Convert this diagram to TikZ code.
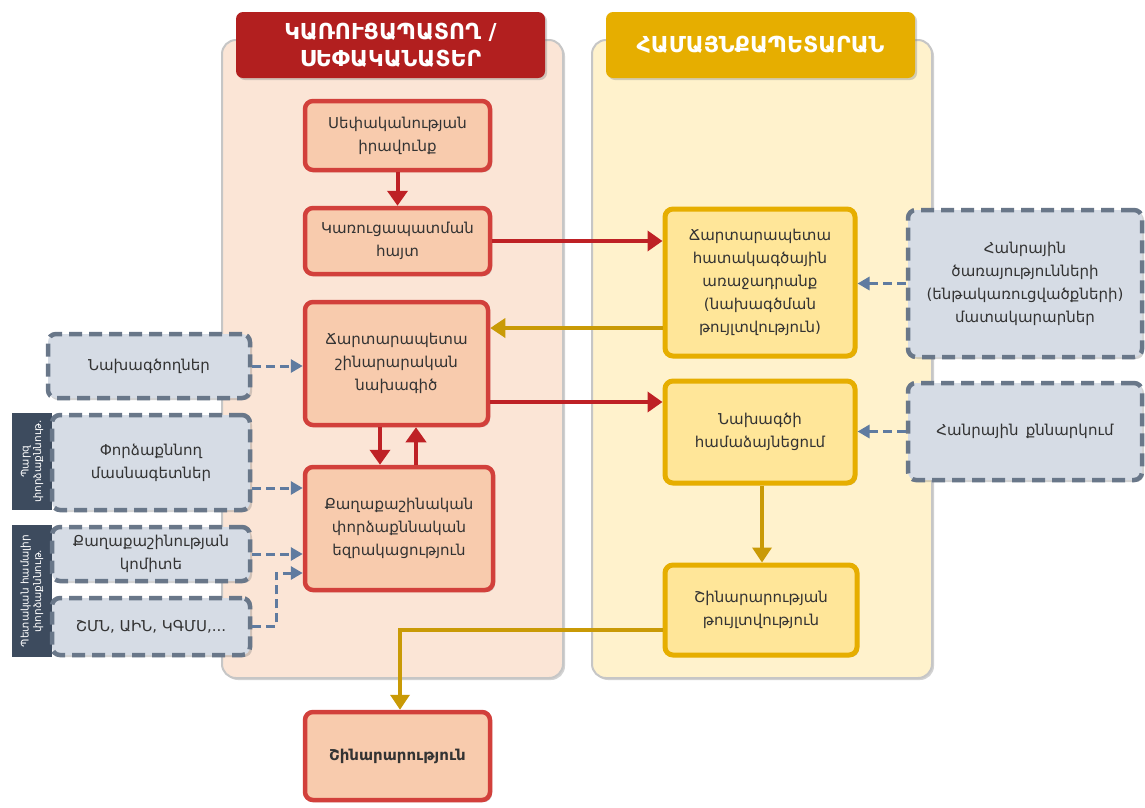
\documentclass[tikz,border=0pt]{standalone}
\usepackage{fontspec}
\setmainfont{DejaVu Sans}
\usetikzlibrary{arrows.meta,shadows}
\definecolor{hred}{HTML}{B21F1F}
\definecolor{hgold}{HTML}{E6AE00}
\definecolor{colL}{HTML}{FBE5D6}
\definecolor{colR}{HTML}{FFF2CC}
\definecolor{rfill}{HTML}{F8CBAD}
\definecolor{rdraw}{HTML}{D2403B}
\definecolor{yfill}{HTML}{FFE699}
\definecolor{ydraw}{HTML}{E6AE00}
\definecolor{gfill}{HTML}{D6DCE5}
\definecolor{gdraw}{HTML}{697789}
\definecolor{sidec}{HTML}{3D4B5E}
\definecolor{redarrc}{HTML}{BE2125}
\definecolor{goldarrc}{HTML}{C99A06}
\definecolor{bluearrc}{HTML}{5F7BA0}
\definecolor{txt}{HTML}{333333}
\begin{document}
\begin{tikzpicture}[x=1pt,y=-1pt,
  shd/.style={drop shadow={shadow xshift=2pt,shadow yshift=-2pt,opacity=0.35}},
  colbg/.style={draw=gray!45,line width=2pt,rounded corners=14pt,shd},
  hdr/.style={rounded corners=7pt,text=white,align=center,inner sep=0pt,
    font=\fontsize{22}{27}\selectfont\bfseries,shd},
  base/.style={rounded corners=8pt,align=center,inner sep=2pt,text=txt,
    font=\fontsize{15}{23}\selectfont,shd},
  rbox/.style={base,fill=rfill,draw=rdraw,line width=4.5pt},
  ybox/.style={base,fill=yfill,draw=ydraw,line width=5pt},
  gbox/.style={base,fill=gfill,draw=gdraw,line width=4.5pt,dash pattern=on 13pt off 7pt},
  sidebox/.style={fill=sidec,text=white,align=center,inner sep=0pt,rotate=90,
    font=\fontsize{10.5}{12.5}\selectfont},
  redarr/.style={draw=redarrc,line width=4pt,-{Triangle[width=20pt,length=15pt]}},
  goldarr/.style={draw=goldarrc,line width=3.5pt,-{Triangle[width=19pt,length=15pt]}},
  bluearr/.style={draw=bluearrc,line width=3pt,dash pattern=on 9pt off 5pt,
    -{Triangle[width=13pt,length=12pt]}}]
\useasboundingbox (0,0) rectangle (1145,807);
\fill[white] (0,0) rectangle (1145,807);
% columns
\draw[colbg,fill=colL] (222,40) rectangle (563,678);
\draw[colbg,fill=colR] (592,40) rectangle (932,678);
% headers
\node[hdr,fill=hred,minimum width=309pt,minimum height=66pt] (hl) at (390.5,45) {ԿԱՌՈՒՑԱՊԱՏՈՂ /\\ՍԵՓԱԿԱՆԱՏԵՐ};
\node[hdr,fill=hgold,minimum width=309pt,minimum height=66pt] (hr) at (760.5,45) {ՀԱՄԱՅՆՔԱՊԵՏԱՐԱՆ};
% red boxes
\node[rbox,minimum width=185pt,minimum height=69pt] (own) at (397.5,135.5) {Սեփականության\\իրավունք};
\node[rbox,minimum width=185pt,minimum height=66pt] (req) at (397.5,241) {Կառուցապատման\\հայտ};
\node[rbox,minimum width=183pt,minimum height=123pt] (proj) at (396.5,363.5) {Ճարտարապետա\\շինարարական\\նախագիծ};
\node[rbox,minimum width=188pt,minimum height=123pt] (exp) at (399,528.5) {Քաղաքաշինական\\փորձաքննական\\եզրակացություն};
\node[rbox,minimum width=185pt,minimum height=88pt,font=\fontsize{15}{23}\selectfont\bfseries] (build) at (397.5,756) {Շինարարություն};
% yellow boxes
\node[ybox,minimum width=190pt,minimum height=147pt] (task) at (760,282.5) {Ճարտարապետա\\հատակագծային\\առաջադրանք\\(նախագծման\\թույլտվություն)};
\node[ybox,minimum width=190pt,minimum height=102pt] (agree) at (760,432) {Նախագծի\\համաձայնեցում};
\node[ybox,minimum width=192pt,minimum height=90pt] (permit) at (761,610) {Շինարարության\\թույլտվություն};
% grey boxes
\node[gbox,minimum width=234pt,minimum height=147pt] (supp) at (1025,283.5) {Հանրային\\ծառայությունների\\(ենթակառուցվածքների)\\մատակարարներ};
\node[gbox,minimum width=234pt,minimum height=97pt] (disc) at (1025,431.5) {Հանրային\, քննարկում};
\node[gbox,minimum width=202pt,minimum height=64pt] (des) at (149,366) {Նախագծողներ};
% side labels
\node[sidebox,minimum width=97pt,minimum height=40pt] (side1) at (32,461.5) {Պարզ\\փորձաքննութ.};
\node[sidebox,minimum width=132pt,minimum height=40pt] (side2) at (32,591) {Պետական համալիր\\փորձաքննութ.};
\node[gbox,minimum width=198pt,minimum height=95pt] (expt) at (151,462.5) {Փորձաքննող\\մասնագետներ};
\node[gbox,minimum width=198pt,minimum height=54pt] (com) at (151,554) {Քաղաքաշինության\\կոմիտե};
\node[gbox,minimum width=198pt,minimum height=57pt] (shmn) at (151,626.5) {ՇՄՆ, ԱԻՆ, ԿԳՄՍ,...};
% helper coordinates
\coordinate (a1) at (600,328);
\coordinate (a2) at (600,402);
\coordinate (a3) at (380,450);
\coordinate (a4) at (416,450);
\coordinate (a5) at (250,488);
\coordinate (a6) at (276,573);
\coordinate (a7) at (762,520);
\coordinate (a8) at (400,630);
% red arrows
\draw[redarr] (own) -- (req);
\draw[redarr] (req.east) -- (task.west |- req.east);
\draw[redarr] (proj.east |- a2) -- (agree.west |- a2);
\draw[redarr] (proj.south -| a3) -- (exp.north -| a3);
\draw[redarr] (exp.north -| a4) -- (proj.south -| a4);
% gold arrows
\draw[goldarr] (task.west |- a1) -- (proj.east |- a1);
\draw[goldarr] (agree.south -| a7) -- (permit.north -| a7);
\draw[goldarr] (permit.west |- a8) -- (a8) -- (build.north -| a8);
% dashed arrows
\draw[bluearr] (supp.west) -- (task.east |- supp.west);
\draw[bluearr] (disc.west) -- (agree.east |- disc.west);
\draw[bluearr] (des.east) -- (proj.west |- des.east);
\draw[bluearr] (expt.east |- a5) -- (exp.west |- a5);
\draw[bluearr] (com.east) -- (exp.west |- com.east);
\draw[bluearr] (shmn.east) -| (a6) -- (exp.west |- a6);
\end{tikzpicture}
\end{document}
